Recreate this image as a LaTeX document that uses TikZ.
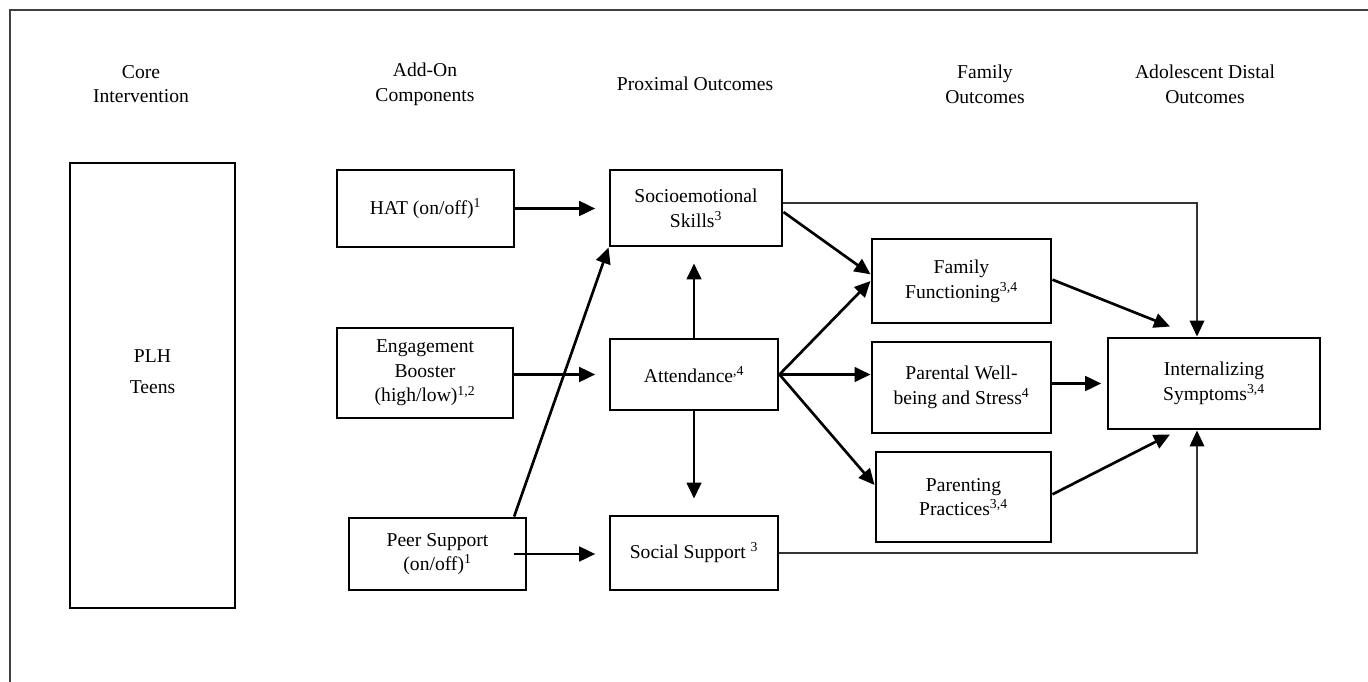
\documentclass[tikz,border=0pt]{standalone}
\usepackage{fontspec}
\setmainfont{Liberation Serif}
\usetikzlibrary{arrows.meta}
\tikzset{
  box/.style={draw,line width=2.2pt,align=center,inner sep=2pt},
  link/.style={line width=2pt,-{Triangle[length=12pt,width=11pt]}},
  longlink/.style={line width=1.1pt,draw=black!80,-{Triangle[length=12pt,width=11pt,color=black]}},
  head/.style={align=center}
}
\begin{document}
\begin{tikzpicture}[x=0.75pt,y=-0.75pt,every node/.style={font=\fontsize{14.7}{18.5}\selectfont}]
\useasboundingbox (0,0) rectangle (1368,682);
% frame
\draw[line width=1pt,black!75] (10,682) -- (10,10) -- (1368,10);
% column heads
\node[head] (hcore) at (141,84) {Core\\Intervention};
\node[head] (hadd) at (425,84) {Add-On\\Components};
\node[head] (hprox) at (695,84) {Proximal Outcomes};
\node[head] (hfam) at (985,84) {Family\\Outcomes};
\node[head] (hdist) at (1205,84) {Adolescent Distal\\Outcomes};
% boxes
\node[box,minimum width=123.75pt,minimum height=333.75pt] (plh) at (152.5,385.5) {};
\node[align=center] (plhtext) at (152.5,371.5) {PLH\\[5pt]Teens};
\node[box,minimum width=132.75pt,minimum height=57.75pt] (hat) at (425.5,208.5) {HAT (on/off)\textsuperscript{1}};
\node[box,minimum width=132pt,minimum height=67.5pt] (boost) at (425,373) {Engagement\\Booster\\(high/low)\textsuperscript{1,2}};
\node[box,minimum width=132.75pt,minimum height=54pt] (peer) at (437.5,554) {Peer Support\\(on/off)\textsuperscript{1}};
\node[box,minimum width=129pt,minimum height=57pt] (socio) at (696,208) {Socioemotional\\Skills\textsuperscript{3}};
\node[box,minimum width=126pt,minimum height=53.25pt] (attend) at (694,374.5) {Attendance\textsuperscript{,4}};
\node[box,minimum width=126pt,minimum height=55.5pt] (social) at (694,553) {Social Support \textsuperscript{3}};
\node[box,minimum width=134.25pt,minimum height=63pt] (famfun) at (961.5,281) {Family\\Functioning\textsuperscript{3,4}};
\node[box,minimum width=134.25pt,minimum height=68.25pt] (parwell) at (961.5,387.5) {Parental Well-\\being and Stress\textsuperscript{4}};
\node[box,minimum width=131.25pt,minimum height=67.5pt] (parprac) at (963.5,497) {Parenting\\Practices\textsuperscript{3,4}};
\node[box,minimum width=159pt,minimum height=68.25pt] (internal) at (1214,383.5) {Internalizing\\Symptoms\textsuperscript{3,4}};
% add-on arrows
\draw[link,shorten >=10pt] (hat) -- (hat -| socio.west);
\draw[link,shorten >=10pt] (boost.east |- attend.west) -- (attend.west);
\draw[link,shorten >=10pt,shorten <=-9.75pt] (peer.east) -- (peer.east -| social.west);
\draw[link] ([xshift=-10pt]peer.north east) -- (socio.south west);
% proximal arrows
\draw[link,shorten >=12pt] (attend.north) -- (attend.north |- socio.south);
\draw[link,shorten >=12pt] (attend.south) -- (social.north);
\draw[link] ([yshift=-3pt]socio.east) -- ([yshift=5pt]famfun.west);
\draw[link] (attend.east) -- (famfun.west);
\draw[link] (attend.east) -- (parwell.west |- attend.east);
\draw[link] (attend.east) -- ([yshift=9pt]parprac.west);
% distal arrows
\draw[link] ([yshift=1pt]famfun.east) -- ([xshift=-33pt,yshift=7.5pt]internal.north);
\draw[link,shorten >=4pt] (parwell.east |- internal.west) -- (internal.west);
\draw[link] ([yshift=2pt]parprac.east) -- ([xshift=-33pt,yshift=-3pt]internal.south);
\draw[longlink] ([yshift=3.75pt]socio.east) -| ([xshift=-12.75pt]internal.north);
\draw[longlink] (social.east) -| ([xshift=-12.75pt]internal.south);
\end{tikzpicture}
\end{document}
